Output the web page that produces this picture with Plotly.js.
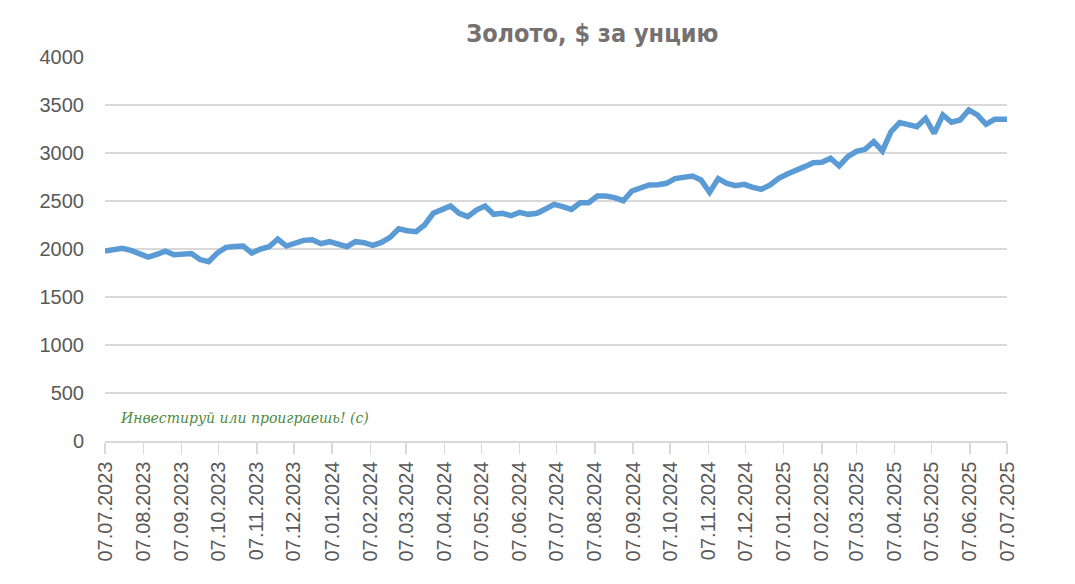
<!DOCTYPE html>
<html>
<head>
<meta charset="utf-8">
<script src="https://cdn.plot.ly/plotly-3.0.1.min.js"></script>
<style>html,body{margin:0;padding:0;background:#fff;}#chart{width:1075px;height:584px;}</style>
</head>
<body>
<div id="chart"></div>
<script>
const dates = [
"2023-07-07","2023-07-14","2023-07-21","2023-07-28","2023-08-04","2023-08-11","2023-08-18","2023-08-25",
"2023-09-01","2023-09-08","2023-09-15","2023-09-22","2023-09-29","2023-10-06","2023-10-13","2023-10-20",
"2023-10-27","2023-11-03","2023-11-10","2023-11-17","2023-11-24","2023-12-01","2023-12-08","2023-12-15",
"2023-12-22","2023-12-29","2024-01-05","2024-01-12","2024-01-19","2024-01-26","2024-02-02","2024-02-09",
"2024-02-16","2024-02-23","2024-03-01","2024-03-08","2024-03-15","2024-03-22","2024-03-29","2024-04-05",
"2024-04-12","2024-04-19","2024-04-26","2024-05-03","2024-05-10","2024-05-17","2024-05-24","2024-05-31",
"2024-06-07","2024-06-14","2024-06-21","2024-06-28","2024-07-05","2024-07-12","2024-07-19","2024-07-26",
"2024-08-02","2024-08-09","2024-08-16","2024-08-23","2024-08-30","2024-09-06","2024-09-13","2024-09-20",
"2024-09-27","2024-10-04","2024-10-11","2024-10-18","2024-10-25","2024-11-01","2024-11-08","2024-11-15",
"2024-11-22","2024-11-29","2024-12-06","2024-12-13","2024-12-20","2024-12-27","2025-01-03","2025-01-10",
"2025-01-17","2025-01-24","2025-01-31","2025-02-07","2025-02-14","2025-02-21","2025-02-28","2025-03-07",
"2025-03-14","2025-03-21","2025-03-28","2025-04-04","2025-04-11","2025-04-18","2025-04-25","2025-05-02",
"2025-05-09","2025-05-16","2025-05-23","2025-05-30","2025-06-06","2025-06-13","2025-06-20","2025-06-27",
"2025-07-07"
];
const goldPrice = [
1980,1993,2007,1985,1950,1915,1945,1978,
1940,1948,1953,1890,1868,1958,2017,2025,
2030,1958,2000,2024,2104,2031,2059,2090,
2097,2055,2076,2055,2024,2076,2066,2038,
2069,2121,2211,2190,2180,2250,2372,2410,
2448,2372,2337,2406,2448,2361,2372,2347,
2382,2361,2372,2417,2465,2441,2413,2482,
2482,2552,2552,2535,2503,2604,2632,2667,
2670,2684,2733,2747,2760,2719,2590,2733,
2684,2660,2674,2642,2622,2667,2736,2781,
2812,2858,2899,2903,2945,2865,2962,3017,
3038,3118,3021,3222,3316,3292,3274,3361,
3205,3396,3320,3344,3448,3396,3299,3351,
3351
];
const chartTitle = "Золото, $ за унцию";
const watermark = "Инвестируй или проиграешь! (с)";

const trace = {
  x: dates, y: goldPrice, type: "scatter", mode: "lines",
  line: {color: "#5b9bd5", width: 5.5, shape: "linear"},
  hoverinfo: "x+y"
};
const layout = {
  width: 1075, height: 584,
  margin: {l: 105, r: 68, t: 57, b: 143},
  paper_bgcolor: "#ffffff", plot_bgcolor: "#ffffff",
  showlegend: false,
  title: {text: chartTitle, x: 0.551, xref: "container", xanchor: "center", y: 0.943, yref: "container", yanchor: "middle",
    font: {family: "'Comic Sans MS', 'DejaVu Sans Condensed', 'DejaVu Sans', sans-serif", size: 25, color: "#767171", weight: "bold"}},
  xaxis: {
    type: "date", range: ["2023-07-07", "2025-07-07"],
    tick0: "2023-07-07", dtick: "M1", tickformat: "%d.%m.%Y", tickangle: -90,
    ticks: "outside", ticklen: 11, tickcolor: "#d9d9d9", tickwidth: 1.5,
    showline: true, linecolor: "#d9d9d9", linewidth: 1.5, showgrid: false, zeroline: false,
    tickfont: {family: "'Liberation Sans', Arial, sans-serif", size: 20, color: "#595959"}
  },
  yaxis: {
    range: [0, 4000], dtick: 500, tick0: 0,
    showgrid: true, gridcolor: "#d9d9d9", gridwidth: 1.5, zeroline: false, showline: false,
    ticks: "", ticklabelstandoff: 20,
    tickfont: {family: "'Liberation Sans', Arial, sans-serif", size: 20, color: "#595959"}
  },
  annotations: [{
    text: watermark, xref: "paper", yref: "paper", x: 0.0144, y: 0.06, xanchor: "left", yanchor: "middle",
    showarrow: false, font: {family: "'DejaVu Serif', serif", size: 14, color: "#4e8a3e", style: "italic"}
  }]
};
Plotly.newPlot("chart", [trace], layout, {displayModeBar: false, staticPlot: true});
</script>
</body>
</html>
